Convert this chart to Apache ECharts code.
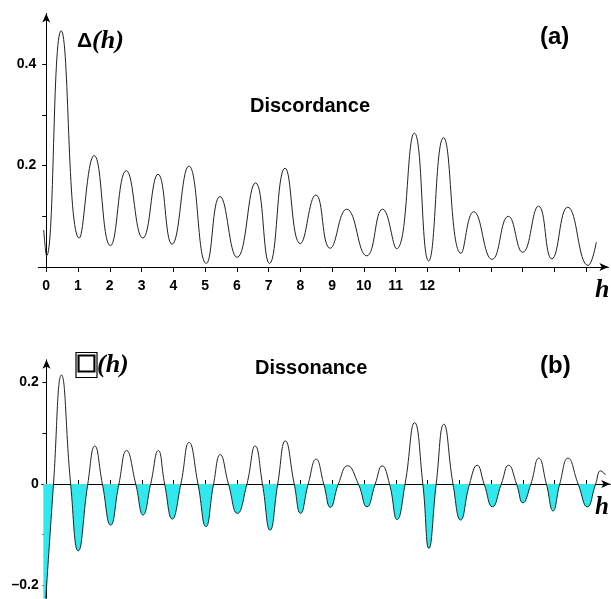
<!DOCTYPE html>
<html>
<head>
<meta charset="utf-8">
<script src="https://cdn.jsdelivr.net/npm/echarts@6/dist/echarts.min.js"></script>
<style>
html, body { margin: 0; background: #fff; }
#ch { width: 611px; height: 599px; }
</style>
</head>
<body>
<div id="ch"></div>
<script>
// (a) discordance: h positions of peaks / troughs
let hTop = [-0.08, 0.01, 0.47, 1.04, 1.51, 2.02, 2.52, 3.04, 3.52, 3.96, 4.49, 5.04, 5.47, 6.01,
    6.59, 7.03, 7.52, 8.0, 8.49, 8.94, 9.46, 10.09, 10.59, 11.03, 11.59, 12.04, 12.51, 13.06,
    13.46, 14.04, 14.55, 15.0, 15.5, 15.92, 16.42, 17.06, 17.32]
let deltaTop = [0.073, 0.022, 0.466, 0.057, 0.22, 0.042, 0.19, 0.057, 0.183, 0.045, 0.199, 0.007, 0.139, 0.019,
    0.166, 0.007, 0.195, 0.046, 0.142, 0.037, 0.114, 0.022, 0.114, 0.036, 0.264, 0.012, 0.255, 0.027,
    0.109, 0.015, 0.1, 0.029, 0.12, 0.016, 0.118, 0.003, 0.049]

// (b) dissonance: peaks, zero crossings, troughs
let hBottom = [-0.1, 0.22, 0.47, 0.76, 1.0, 1.3, 1.52, 1.76, 2.02, 2.28, 2.52, 2.81, 3.04, 3.28,
    3.52, 3.72, 3.96, 4.23, 4.49, 4.77, 5.02, 5.26, 5.47, 5.73, 6.01, 6.31, 6.57, 6.8, 7.04, 7.28,
    7.52, 7.8, 8.0, 8.24, 8.49, 8.73, 8.94, 9.19, 9.48, 9.82, 10.09, 10.35, 10.57, 10.8, 11.04, 11.29,
    11.59, 11.85, 12.04, 12.27, 12.51, 12.8, 13.04, 13.32, 13.56, 13.78, 14.04, 14.32, 14.55, 14.8,
    15.0, 15.25, 15.5, 15.74, 15.95, 16.16, 16.42, 16.74, 17.03, 17.29, 17.45, 17.6]
let omegaBottom = [-0.3, 0, 0.215, 0, -0.132, 0, 0.075, 0, -0.081, 0, 0.066, 0, -0.061, 0,
    0.066, 0, -0.069, 0, 0.082, 0, -0.084, 0, 0.058, 0, -0.058, 0, 0.075, 0, -0.091, 0,
    0.085, 0, -0.058, 0, 0.049, 0, -0.046, 0, 0.036, 0, -0.045, 0, 0.036, 0, -0.07, 0,
    0.121, 0, -0.127, 0, 0.118, 0, -0.071, 0, 0.037, 0, -0.045, 0, 0.037, 0,
    -0.037, 0, 0.051, 0, -0.053, 0, 0.051, 0, -0.045, 0, 0.026, 0.018]

let xTicks = [0, 1, 2, 3, 4, 5, 6, 7, 8, 9, 10, 11, 12, 13, 14, 15, 16, 17]
let xTickLabels = [0, 1, 2, 3, 4, 5, 6, 7, 8, 9, 10, 11, 12]
let yTopTicks = [0.1, 0.2, 0.3, 0.4]
let yTopLabels = [0.2, 0.4]
let yBottomTicks = [-0.2, -0.1, 0.1, 0.2]
let yBottomLabels = [-0.2, 0, 0.2]

let chart = echarts.init(document.getElementById('ch'));

const sans = '"Liberation Sans", Arial, sans-serif'
const serif = '"Liberation Serif", "Times New Roman", serif'
const unit = 31.76

// bottom grid geometry, used for the fill gradient too
const bMin = -0.225, bMax = 0.245, bTop = 359.8, bHeight = 238.3
const zeroY = bTop + bHeight * bMax / (bMax - bMin)
const fillColor = new echarts.graphic.LinearGradient(0, 0, 0, 599, [
    { offset: 0, color: 'rgba(0,230,235,0)' },
    { offset: zeroY / 599, color: 'rgba(0,230,235,0)' },
    { offset: zeroY / 599, color: '#30e8ee' },
    { offset: 1, color: '#30e8ee' }
], true)

let axisLine = {
    onZero: true,
    symbol: ['none', 'arrow'],
    symbolSize: [6, 9],
    lineStyle: { color: '#000', width: 1 }
}
let labelStyle = { color: '#000', fontFamily: sans, fontWeight: 'bold', fontSize: 14 }

function txt(x, y, text, rich) {
    return {
        type: 'text', x: x, y: y, silent: true,
        style: { text: text, rich: rich, textVerticalAlign: 'middle', verticalAlign: 'middle', fill: '#000' }
    }
}

let option = {
    animation: false,
    grid: [
        { left: 38.3, top: 13.5, width: 17.95 * unit, height: 253.5 },
        { left: 46.5 - 0.15 * unit, top: bTop, width: 17.9 * unit, height: bHeight }
    ],
    xAxis: [
        {
            gridIndex: 0, type: 'value', min: -0.25, max: 17.7,
            axisLine: axisLine,
            axisTick: { customValues: xTicks, length: 5, lineStyle: { color: '#000' } },
            axisLabel: Object.assign({ customValues: xTickLabels, margin: 12 }, labelStyle),
            splitLine: { show: false }
        },
        {
            gridIndex: 1, type: 'value', min: -0.15, max: 17.75,
            axisLine: axisLine,
            axisTick: { customValues: xTicks, length: 4, inside: true, lineStyle: { color: '#000' } },
            axisLabel: { show: false },
            splitLine: { show: false }
        }
    ],
    yAxis: [
        {
            gridIndex: 0, type: 'value', min: 0, max: 0.5,
            axisLine: axisLine,
            axisTick: { customValues: yTopTicks, length: 4, lineStyle: { color: '#000' } },
            axisLabel: Object.assign({ customValues: yTopLabels, margin: 2 }, labelStyle),
            splitLine: { show: false }
        },
        {
            gridIndex: 1, type: 'value', min: bMin, max: bMax,
            axisLine: axisLine,
            axisTick: { customValues: yBottomTicks, length: 4, lineStyle: { color: '#000' } },
            axisLabel: Object.assign({
                customValues: yBottomLabels, margin: 3,
                formatter: v => String(v).replace('-', '–')
            }, labelStyle),
            splitLine: { show: false }
        }
    ],
    series: [
        {
            type: 'line', xAxisIndex: 0, yAxisIndex: 0,
            data: hTop.map((h, i) => [h, deltaTop[i]]),
            smooth: 0.5, showSymbol: false,
            lineStyle: { color: '#222', width: 1 }
        },
        {
            type: 'line', xAxisIndex: 1, yAxisIndex: 1,
            data: hBottom.map((h, i) => [h, omegaBottom[i]]),
            smooth: 0.5, showSymbol: false,
            lineStyle: { color: '#222', width: 1 },
            areaStyle: { origin: 0, color: fillColor, opacity: 1 }
        }
    ],
    graphic: [
        txt(77, 41, '{a|Δ}{b|(h)}', {
            a: { fontFamily: sans, fontWeight: 'bold', fontSize: 21 },
            b: { fontFamily: serif, fontWeight: 'bold', fontStyle: 'italic', fontSize: 26 }
        }),
        txt(250, 106, '{a|Discordance}', { a: { fontFamily: sans, fontWeight: 'bold', fontSize: 20 } }),
        txt(540, 37, '{a|(a)}', { a: { fontFamily: sans, fontWeight: 'bold', fontSize: 24 } }),
        txt(595, 290, '{a|h}', { a: { fontFamily: serif, fontWeight: 'bold', fontStyle: 'italic', fontSize: 26 } }),
        txt(76, 365, '{a|□}{b|(h)}', {
            a: { fontFamily: '"Noto Sans CJK SC", sans-serif', fontWeight: 'bold', fontSize: 21,
                 fill: '#000', color: '#000', stroke: '#000', lineWidth: 1.2,
                 textBorderColor: '#000', textBorderWidth: 1.2, padding: [0, 0, 4, 0] },
            b: { fontFamily: serif, fontWeight: 'bold', fontStyle: 'italic', fontSize: 26 }
        }),
        txt(255, 368, '{a|Dissonance}', { a: { fontFamily: sans, fontWeight: 'bold', fontSize: 20 } }),
        txt(540, 366, '{a|(b)}', { a: { fontFamily: sans, fontWeight: 'bold', fontSize: 24 } }),
        txt(595, 508, '{a|h}', { a: { fontFamily: serif, fontWeight: 'bold', fontStyle: 'italic', fontSize: 25 } })
    ]
};

chart.setOption(option);
</script>
</body>
</html>
